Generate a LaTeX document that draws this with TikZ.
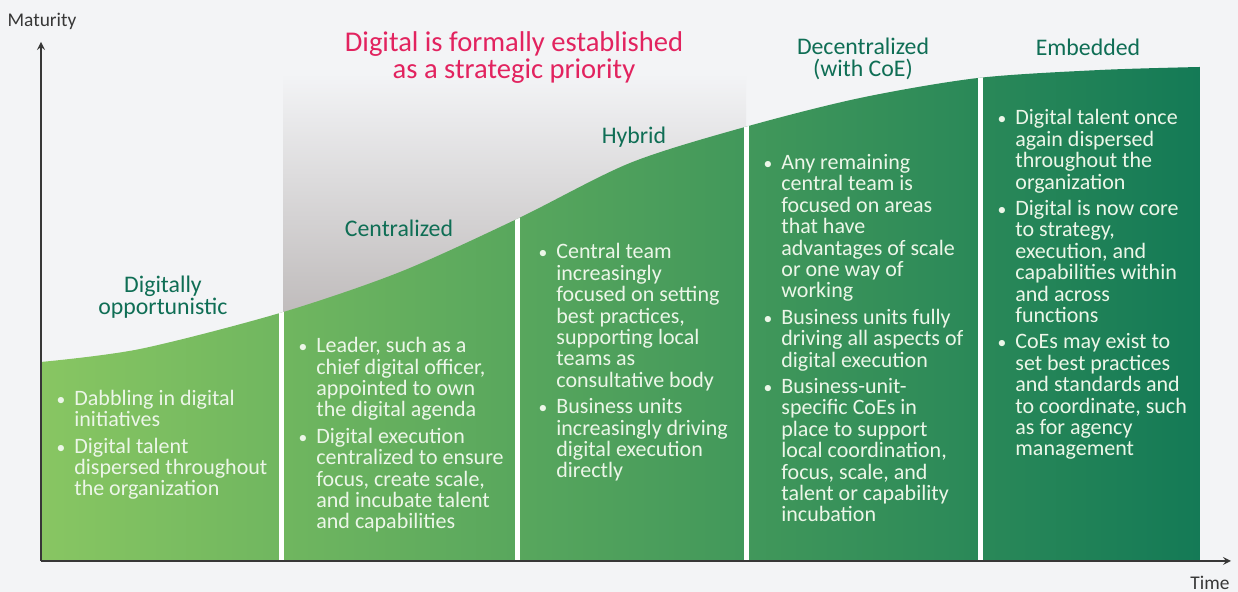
\documentclass[tikz,border=0pt]{standalone}
\usepackage{fontspec}
\setmainfont{Carlito}
\usetikzlibrary{arrows}
\definecolor{bggray}{RGB}{243,244,246}
\definecolor{shadegray}{RGB}{190,186,186}
\definecolor{greenL}{RGB}{136,198,98}
\definecolor{greenR}{RGB}{20,122,86}
\definecolor{labelgreen}{RGB}{15,110,85}
\definecolor{titlepink}{RGB}{226,35,95}
\definecolor{textwhite}{RGB}{236,246,232}
\definecolor{axisgray}{RGB}{55,55,55}
\newcommand{\bpoint}{\llap{\scalebox{0.8}{\textbullet}\hspace{4.5pt}}}

\begin{document}
\begin{tikzpicture}[x=0.5pt,y=0.5pt,
  stagelabel/.style={text=labelgreen,align=center,font=\fontsize{11.9}{11.2}\selectfont},
  bullets/.style={text=textwhite,align=left,anchor=base west,inner sep=0pt,font=\fontsize{11}{10.7}\selectfont},
  axis/.style={draw=axisgray,line width=0.75pt}]
\fill[bggray] (0,0) rectangle (1238,592);
\useasboundingbox (0,0) rectangle (1238,592);

\fill[top color=bggray,bottom color=shadegray] (283,519) rectangle (746,272);

\path[left color=greenL,right color=greenR] (41,31) -- plot[smooth] coordinates {(41,230) (140,243) (280,279) (400,320) (517,373) (630,429) (745,465) (860,494) (978,514) (1100,522) (1200,525)} -- (1200,31) -- cycle;
\begin{scope}
\clip (41,31) -- plot[smooth] coordinates {(41,230) (140,243) (280,279) (400,320) (517,373) (630,429) (745,465) (860,494) (978,514) (1100,522) (1200,525)} -- (1200,31) -- cycle;
\foreach \xd in {281,517,746,980}
  \draw[white,line width=2.5pt] (\xd,31) -- (\xd,560);
\end{scope}

\coordinate (origin) at (41,31);
\coordinate (ytop) at (41,550);
\coordinate (xend) at (1231,31);
\draw[axis,-stealth] (origin) -- (ytop);
\draw[axis,-stealth] (origin) -- (xend);
\node[text=axisgray,font=\fontsize{9.7}{9.7}\selectfont] (maturity) at (42,571) {Maturity};
\node[text=axisgray,font=\fontsize{9.7}{9.7}\selectfont] (time) at (1210,9) {Time};

\node[text=titlepink,align=center,font=\fontsize{14.3}{13.5}\selectfont] (priority) at (514,534) {Digital is formally established\\as a strategic priority};

\node[stagelabel] (opportunistic) at (163,295) {Digitally\\opportunistic};
\node[stagelabel] (centralized) at (399,364) {Centralized};
\node[stagelabel] (hybrid) at (634,455) {Hybrid};
\node[stagelabel] (decentralized) at (863,533) {Decentralized\\(with CoE)};
\node[stagelabel] (embedded) at (1088,545) {Embedded};

\node[bullets] (opportunisticlist) at (74,96) {\bpoint Dabbling in digital\\initiatives\\[2.5pt]
\bpoint Digital talent\\dispersed throughout\\the organization};
\node[bullets] (centralizedlist) at (316,63) {\bpoint Leader, such as a\\chief digital officer,\\appointed to own\\the digital agenda\\[2.5pt]
\bpoint Digital execution\\centralized to ensure\\focus, create scale,\\and incubate talent\\and capabilities};
\node[bullets] (hybridlist) at (556,114) {\bpoint Central team\\increasingly\\focused on setting\\best practices,\\supporting local\\teams as\\consultative body\\[2.5pt]
\bpoint Business units\\increasingly driving\\digital execution\\directly};
\node[bullets] (decentralizedlist) at (781,70) {\bpoint Any remaining\\central team is\\focused on areas\\that have\\advantages of scale\\or one way of\\working\\[2.5pt]
\bpoint Business units fully\\driving all aspects of\\digital execution\\[2.5pt]
\bpoint Business-unit-\\specific CoEs in\\place to support\\local coordination,\\focus, scale, and\\talent or capability\\incubation};
\node[bullets] (embeddedlist) at (1015,136) {\bpoint Digital talent once\\again dispersed\\throughout the\\organization\\[2.5pt]
\bpoint Digital is now core\\to strategy,\\execution, and\\capabilities within\\and across\\functions\\[2.5pt]
\bpoint CoEs may exist to\\set best practices\\and standards and\\to coordinate, such\\as for agency\\management};
\end{tikzpicture}
\end{document}
